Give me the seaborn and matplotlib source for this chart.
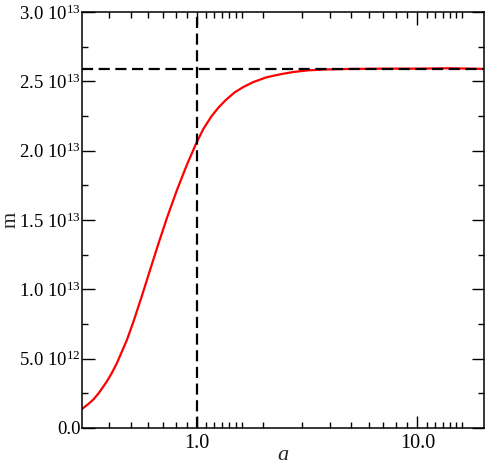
import numpy as np
import pandas as pd
import matplotlib
matplotlib.use("Agg")
import matplotlib.pyplot as plt
from matplotlib.ticker import FixedLocator, FixedFormatter, NullFormatter
import seaborn as sns

# data
a_vals = [0.300, 0.320, 0.339, 0.360, 0.390, 0.410, 0.433, 0.481, 0.515, 0.562,
          0.613, 0.669, 0.731, 0.811, 0.901, 1.0, 1.072, 1.16, 1.25, 1.35,
          1.48, 1.625, 1.8, 2.07, 2.4, 2.74, 3.2, 3.8, 5.0, 7.0,
          10.0, 14.0, 20.0]
m_vals = [1.35, 1.70, 2.05, 2.55, 3.35, 3.93, 4.66, 6.34, 7.66, 9.5,
          11.4, 13.3, 15.15, 17.15, 19.0, 20.65, 21.6, 22.45, 23.1, 23.65,
          24.2, 24.6, 24.95, 25.3, 25.52, 25.68, 25.8, 25.86, 25.9, 25.92,
          25.92, 25.95, 25.9]
m_vals = [v * 1e12 for v in m_vals]
h_level = 2.59e13
v_level = 1.0
y_ticks = [0.0, 5e12, 1e13, 1.5e13, 2e13, 2.5e13, 3e13]
y_labels = ["0.0", r"5.0 10$^{12}$", r"1.0 10$^{13}$", r"1.5 10$^{13}$",
            r"2.0 10$^{13}$", r"2.5 10$^{13}$", r"3.0 10$^{13}$"]
y_minor = [2.5e12, 7.5e12, 1.25e13, 1.75e13, 2.25e13, 2.75e13]
x_major = [1.0, 10.0]
x_labels = ["1.0", "10.0"]
x_minor = [0.4, 0.5, 0.6, 0.7, 0.8, 0.9, 1.1, 1.2, 1.3, 1.4, 1.5, 1.6,
           2, 3, 4, 5, 6, 7, 8, 9, 11, 12, 13, 14, 15, 16]

sns.set_style("ticks")
plt.rcParams['font.family'] = ['Liberation Serif', 'DejaVu Serif']
plt.rcParams['mathtext.fontset'] = 'custom'
plt.rcParams['mathtext.rm'] = 'Liberation Serif'
plt.rcParams['mathtext.it'] = 'Liberation Serif:italic'

df = pd.DataFrame({"a": a_vals, "m": m_vals})

fig = plt.figure(figsize=(4.86, 4.65), dpi=100)
ax = fig.add_axes([0.168, 0.0796, 0.8275, 0.8944])

sns.lineplot(data=df, x="a", y="m", ax=ax, color="red", linewidth=1.6)
ax.axhline(h_level, color="black", linestyle=(0, (5, 2.5)), linewidth=1.6)
ax.axvline(v_level, color="black", linestyle=(0, (5, 2.5)), linewidth=1.6)

ax.set_xscale("log")
ax.set_xlim(0.300, 20.0)
ax.set_ylim(0, 3e13)

ax.xaxis.set_major_locator(FixedLocator(x_major))
ax.xaxis.set_major_formatter(FixedFormatter(x_labels))
ax.xaxis.set_minor_locator(FixedLocator(x_minor))
ax.xaxis.set_minor_formatter(NullFormatter())
ax.yaxis.set_major_locator(FixedLocator(y_ticks))
ax.yaxis.set_major_formatter(FixedFormatter(y_labels))
ax.yaxis.set_minor_locator(FixedLocator(y_minor))

ax.tick_params(which="both", direction="in", top=True, right=True,
               width=1.0, colors="black")
ax.tick_params(which="major", length=9)
ax.tick_params(which="minor", length=4.5)
ax.tick_params(axis="x", pad=4, labelsize=14.5)
ax.tick_params(axis="y", pad=1, labelsize=13.5)
for s in ax.spines.values():
    s.set_linewidth(1.1)
    s.set_color("black")

ax.set_xlabel(r"$a$", fontsize=16, labelpad=-5)
ax.set_ylabel("m", fontsize=15)
ax.yaxis.set_label_coords(-0.152, 0.5)

fig.savefig("out.png", dpi=100)
